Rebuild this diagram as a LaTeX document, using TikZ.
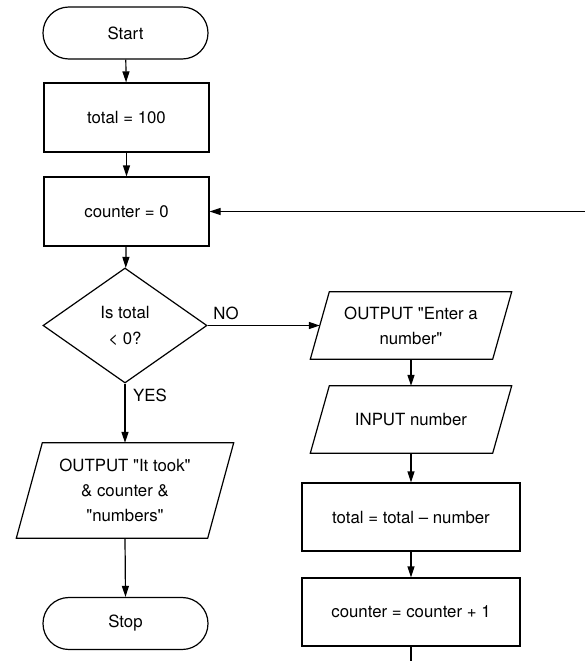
\documentclass[tikz,border=0pt]{standalone}
\usepackage{fontspec}
\setmainfont{TeX Gyre Heros}[Ligatures=TeXOff]
\usetikzlibrary{shapes.geometric,arrows.meta,calc}
\begin{document}
\begin{tikzpicture}[x=1pt,y=-1pt,
  every node/.style={font=\fontsize{16.8}{25}\selectfont, align=center, inner sep=0pt},
  termbox/.style={draw, line width=1.2pt, rounded corners=25.9pt, minimum width=165pt, minimum height=52pt},
  procbox/.style={draw, line width=1.2pt, minimum width=165pt, minimum height=69pt},
  widebox/.style={draw, line width=1.2pt, minimum width=218pt, minimum height=68pt},
  decbox/.style={draw, diamond, line width=1.2pt, aspect=1.43, minimum width=164pt, minimum height=115pt},
  iobox/.style={minimum width=#1},
  arr/.style={line width=1.2pt, -{Triangle[length=11pt,width=7pt]}},
  plain/.style={line width=1.2pt}
]
\useasboundingbox (0,0) rectangle (585,661);

% left column
\node[termbox] (start) at (125.5,33) {Start};
\node[procbox] (tot) at (126.5,117.5) {total = 100};
\node[procbox] (cnt) at (126.5,211.5) {counter = 0};
\node[decbox] (dec) at (125,325.5) {Is total\\[1pt]< 0?};
\node[iobox=191pt, minimum height=95pt] (out2) at (125,490.5) {OUTPUT "It took"\\\& counter \&\\"numbers"};
\node[termbox] (stop) at (125.5,623.5) {Stop};

% right column
\node[iobox=182pt, minimum height=67pt] (out1) at (411,325.5) {OUTPUT "Enter a\\number"};
\node[iobox=182pt, minimum height=67pt] (inp) at (411,419.5) {INPUT number};
\node[widebox] (sub) at (411,517) {total = total – number};
\node[widebox] (inc) at (411,612) {counter = counter + 1};

% parallelogram outlines
\foreach \n/\s in {out1/9.5,inp/9.5,out2/13}
  \draw[plain] ($(\n.north west)+(\s,0)$) -- ($(\n.north east)+(\s,0)$)
     -- ($(\n.south east)+(-\s,0)$) -- ($(\n.south west)+(-\s,0)$) -- cycle;

% labels
\node (no) at (226,313) {NO};
\node (yes) at (150,395) {YES};

% free ends
\coordinate (loopin) at (585,211.5);
\coordinate (loopend) at (411,661);

% connectors
\draw[arr] (start) -- (tot);
\draw[arr] (tot) -- (cnt);
\draw[arr] (cnt) -- (dec);
\draw[arr] (dec.south) -- (out2.north);
\draw[arr] (out2.south) -- (stop.north);
\draw[arr] (dec.east) -- (out1.west);
\draw[arr] (out1.south) -- (inp.north);
\draw[arr] (inp.south) -- (sub.north);
\draw[arr] (sub.south) -- (inc.north);
\draw[plain] (inc.south) -- (loopend);
\draw[arr] (loopin) -- (cnt.east);
\end{tikzpicture}
\end{document}
